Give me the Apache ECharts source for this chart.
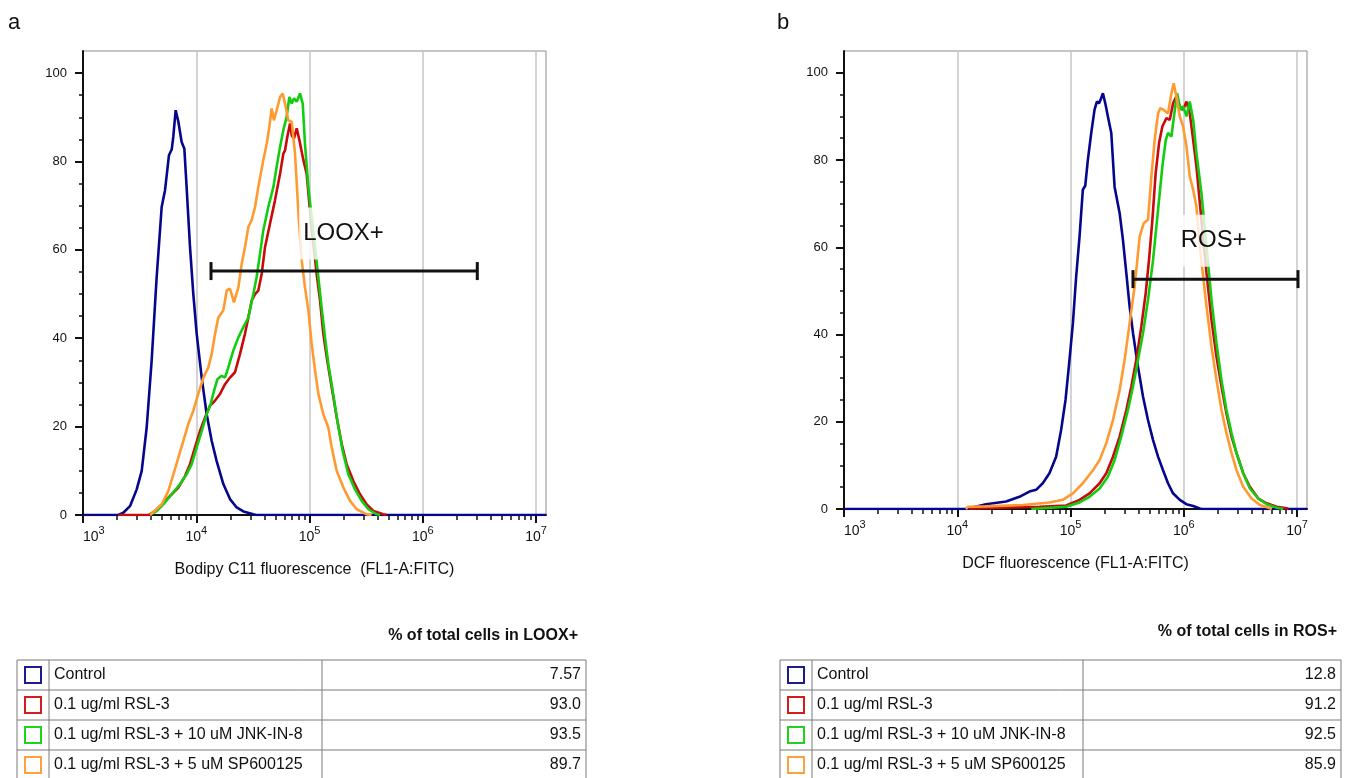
<!DOCTYPE html>
<html>
<head>
<meta charset="utf-8">
<script src="https://cdn.jsdelivr.net/npm/echarts@6/dist/echarts.min.js"></script>
<style>
html,body{margin:0;padding:0;background:#fff;}
#chart{width:1346px;height:778px;}
</style>
</head>
<body>
<div id="chart"></div>
<script>
// ---------- data (x = fluorescence intensity, y = % of max) ----------
const loxControl = [[1000,0],[2050,0],[2270,0.5],[2600,2],[2980,5.8],[3300,10],[3650,19.8],[4040,35],[4470,53.8],[4950,69.7],[5300,73.5],[5740,81.4],[6070,82.7],[6270,85.6],[6580,91.6],[6950,89],[7430,84.4],[7850,82.9],[8220,74.2],[8810,60.6],[9420,50],[10090,41],[11170,31.1],[12360,22.8],[13680,16.8],[15140,12.2],[17340,7],[19860,3.6],[22750,1.7],[26060,0.8],[31920,0.15],[34000,0],[12250000,0]];
const loxRsl = [[2050,0],[3780,0],[4330,0.9],[4960,2.4],[5860,4.3],[6950,6.2],[7960,8.8],[8810,11.5],[9750,15.3],[10790,19],[11940,22],[13210,24.7],[14660,25.9],[16220,27.4],[17950,29.6],[19860,31.1],[21980,32.3],[24320,36.4],[26920,41],[28840,44.7],[30830,48.5],[33040,50],[35320,50.8],[37840,54.6],[40460,60.6],[44770,65.9],[49550,71.2],[54950,77.2],[58750,81.8],[60810,82.5],[63680,85.6],[67300,88.6],[69660,85.9],[72950,85.2],[77090,87.5],[81280,84.9],[88310,80.3],[94410,77.2],[100900,68.9],[108100,61.4],[115600,54.6],[123900,48.5],[132400,41],[143500,34.9],[157000,28.9],[173800,22.1],[192300,16.1],[212800,11.5],[243800,7.7],[279300,4.7],[319900,2.4],[366400,0.9],[448700,0.15],[479700,0]];
const loxJnk = [[3910,0],[4470,0.9],[5120,2.4],[6070,4.7],[7190,7],[8220,9.2],[9120,11.5],[10090,15.3],[11170,19],[12360,22.8],[13400,25.1],[14350,28.1],[15350,30.7],[16750,31.5],[17950,31.1],[19190,33.4],[21230,37.2],[23550,40.2],[26060,42.5],[28840,44.7],[31920,50],[34120,53.8],[36560,59.1],[39080,64.4],[43250,69.7],[47970,74.2],[51290,78.8],[54950,83.3],[58750,87.1],[62810,90.1],[66370,94.6],[69660,93.1],[72950,94.3],[77090,93.5],[82410,95.4],[87100,93.1],[91200,84],[97720,74.2],[104500,67.4],[111900,60.6],[119700,53.8],[127900,47],[137100,40.2],[146600,34.2],[160300,28.1],[176200,21.3],[196300,14.5],[220300,9.2],[252300,5.8],[289100,3.2],[331100,1.3],[391700,0.15],[419800,0]];
const loxSp = [[3910,0],[4960,2.4],[5660,5.4],[6280,9.2],[6950,13],[7690,16.8],[8510,20.6],[9420,23.6],[10420,27.4],[11560,31.1],[12790,33.4],[13680,36.4],[14660,41],[15670,44.7],[17340,46.3],[18580,50.8],[19860,51.2],[21530,48.1],[23550,51.5],[25180,56.8],[26920,60.6],[28840,65.2],[30830,66.7],[33040,69.7],[35320,74.2],[39080,80.3],[41880,84],[44160,87.8],[46340,92],[48530,89.3],[51290,91.6],[54950,94.6],[57940,95.4],[60810,93.1],[65010,89.3],[69660,89],[74470,81.8],[79620,68.9],[85310,57.6],[91200,51.5],[97720,46.3],[104500,38.7],[111900,32.7],[119700,27.4],[132400,22.8],[146600,19.8],[157000,15.3],[173800,10],[199100,6.2],[228000,3.2],[261200,1.3],[319900,0.15],[354000,0]];

const rosControl = [[1000,0],[11900,0],[17950,1.1],[26980,1.7],[35400,2.8],[43350,4],[49660,4.4],[56890,5.9],[65160,8.2],[74640,12],[82600,18.1],[90360,25],[97950,34.2],[105000,42.6],[112200,53.3],[120200,62.5],[128500,73.2],[134900,74.1],[142200,80],[152400,86.2],[162900,91.5],[171000,93.4],[178200,93],[184100,93.8],[193200,95.3],[202800,93],[213800,90],[229100,86.2],[244900,73.9],[271600,67.8],[290400,61.7],[311200,54],[332700,46.4],[356500,40.3],[394500,32.6],[436500,25.8],[483100,20.4],[535800,15.8],[592900,12],[656100,8.9],[726100,5.9],[803500,3.6],[922600,2.1],[1054000,1.1],[1211000,0.7],[1384000,0.1],[1450000,0],[12250000,0]];
const rosRsl = [[12800,0],[13680,0.15],[53210,0.5],[91620,0.8],[120200,2.1],[147200,3.6],[180700,5.9],[207000,8.2],[237100,12],[271600,16.6],[311200,22.7],[344400,28.1],[381100,34.2],[421700,41.8],[461300,49.5],[493300,57.1],[528400,66.3],[564900,77],[605300,83.9],[647100,87.7],[703100,89.6],[751600,89.2],[805400,93],[861000,94.6],[922600,92.3],[986300,91.5],[1057000,93.4],[1130000,90.7],[1211000,84.6],[1294000,78.5],[1432000,66.3],[1589000,54],[1758000,43.3],[1945000,34.9],[2153000,28.1],[2382000,21.9],[2642000,16.6],[2924000,12.8],[3350000,8.2],[3837000,5.1],[4550000,2.4],[5395000,1.3],[6607000,0.5],[8091000,0.15],[8400000,0]];
const rosJnk = [[45000,0],[91620,0.5],[120200,1.5],[147200,2.8],[180700,4.7],[213800,7.4],[244900,11.2],[280500,16.6],[321400,22.7],[356500,28.1],[394500,34.2],[436500,40.3],[483100,47.9],[535800,57.1],[592900,68.6],[647100,78.5],[693400,84.6],[726100,86.2],[778000,85.4],[833700,91.5],[873000,95.3],[935400,91.5],[986300,92.3],[1057000,90],[1130000,93.4],[1211000,89.2],[1294000,81.6],[1432000,72.4],[1589000,60.2],[1758000,47.9],[1945000,38],[2153000,29.6],[2382000,22.7],[2642000,17.4],[2924000,12.8],[3350000,8.2],[3837000,4.7],[4550000,2.4],[5395000,1.1],[6607000,0.3],[7568000,0]];
const rosSp = [[11900,0],[12500,0.5],[17950,0.6],[37840,0.9],[65160,1.5],[85510,2.1],[105000,3.6],[128500,5.9],[157800,8.9],[180700,11.2],[207000,15.1],[237100,20.4],[271600,27.3],[300600,34.2],[332700,42.6],[368100,51],[408300,62.5],[442600,65.5],[483100,66.3],[517600,76.2],[553400,84.6],[592900,90.7],[620900,91.9],[665300,91.5],[726100,90.7],[778000,95.3],[814700,97.6],[861000,94.6],[922600,90],[986300,87.7],[1057000,83.1],[1130000,76.2],[1211000,73.2],[1294000,69.3],[1384000,60.2],[1483000,53.3],[1589000,46.4],[1758000,37.2],[1945000,29.6],[2153000,22.7],[2382000,17.4],[2642000,12.8],[2924000,8.9],[3350000,5.1],[3972000,2.4],[4710000,0.9],[5768000,0.15],[6000000,0]];

// gates: [from, to, level] and label anchor [x, y]
const looxGate = [13500, 3030000, 55.2];
const looxLabelAt = [199500, 63.7];
const rosGate = [356000, 10200000, 52.7];
const rosLabelAt = [1840000, 61.5];

// legend / table
const groupNames = ['Control', '0.1 ug/ml RSL-3', '0.1 ug/ml RSL-3 + 10 uM JNK-IN-8', '0.1 ug/ml RSL-3 + 5 uM SP600125'];
const looxPercent = [7.57, 93.0, 93.5, 89.7];
const rosPercent = [12.8, 91.2, 92.5, 85.9];

// axes
const xMin = 1000, xMax = 12250000;
const xMajorTicks = [1000, 10000, 100000, 1000000, 10000000];
const xMinorTicks = [2000,3000,4000,5000,6000,7000,8000,9000,20000,30000,40000,50000,60000,70000,80000,90000,200000,300000,400000,500000,600000,700000,800000,900000,2000000,3000000,4000000,5000000,6000000,7000000,8000000,9000000];
const yMajorTicks = [0, 20, 40, 60, 80, 100];
const yMinorTicks = [5,10,15,25,30,35,45,50,55,65,70,75,85,90,95];
const yMin = 0, yMax = 105;

// ---------- styles ----------
const FONT = 'Liberation Sans, Arial, Helvetica, sans-serif';
const seriesColors = ['#06068c', '#c80a0a', '#12cc12', '#ff9a30'];
const legendColors = ['#1c1c8e', '#d41c1c', '#22d022', '#ffa040'];

const chart = echarts.init(document.getElementById('chart'), null, {renderer: 'canvas'});

function majorX(gridIndex, name) {
  return {
    gridIndex, type: 'log', logBase: 10, min: xMin, max: xMax, position: 'bottom',
    name, nameLocation: 'middle', nameGap: 47,
    nameTextStyle: {fontSize: 16, color: '#111', fontFamily: FONT},
    axisLine: {show: true, onZero: false, lineStyle: {color: '#111', width: 2}},
    axisTick: {show: true, customValues: xMajorTicks, length: 8, lineStyle: {color: '#111', width: 2}},
    axisLabel: {
      show: true, customValues: xMajorTicks, margin: 15, alignMinLabel: 'left',
      formatter: v => '{b|10}{s|' + Math.round(Math.log10(v)) + '}',
      rich: {
        b: {fontSize: 14, lineHeight: 14, verticalAlign: 'bottom', color: '#111', fontFamily: FONT},
        s: {fontSize: 11, lineHeight: 11, padding: [0, 0, 13, 0], color: '#111', fontFamily: FONT}
      }
    },
    splitLine: {show: true, lineStyle: {color: '#c6c6c6', width: 1.5}},
    minorTick: {show: false}
  };
}
function minorX(gridIndex) {
  return {
    gridIndex, type: 'log', logBase: 10, min: xMin, max: xMax, position: 'bottom',
    axisLine: {show: false, onZero: false},
    axisTick: {show: true, customValues: xMinorTicks, length: 5, lineStyle: {color: '#111', width: 1.5}},
    axisLabel: {show: false}, splitLine: {show: false}
  };
}
function majorY(gridIndex) {
  return {
    gridIndex, type: 'value', min: yMin, max: yMax, position: 'left',
    axisLine: {show: true, onZero: false, lineStyle: {color: '#111', width: 2}},
    axisTick: {show: true, customValues: yMajorTicks, length: 8, lineStyle: {color: '#111', width: 2}},
    axisLabel: {show: true, customValues: yMajorTicks, margin: 16, fontSize: 13, color: '#111', fontFamily: FONT, padding: [7, 0, 0, 0]},
    splitLine: {show: false}
  };
}
function minorY(gridIndex) {
  return {
    gridIndex, type: 'value', min: yMin, max: yMax, position: 'left',
    axisLine: {show: false, onZero: false},
    axisTick: {show: true, customValues: yMinorTicks, length: 4, lineStyle: {color: '#111', width: 1.5}},
    axisLabel: {show: false}, splitLine: {show: false}
  };
}

function curve(data, colorIdx, xi, yi) {
  return {
    type: 'line', xAxisIndex: xi, yAxisIndex: yi, data, showSymbol: false, symbol: 'none',
    lineStyle: {color: seriesColors[colorIdx], width: 2.6}, itemStyle: {color: seriesColors[colorIdx]},
    z: 2 + colorIdx * 0.1, silent: true, animation: false
  };
}

function renderGate(params, api) {
  const a = api.coord([api.value(0), api.value(2)]);
  const b = api.coord([api.value(1), api.value(2)]);
  const st = {stroke: '#111', lineWidth: 3};
  return {type: 'group', children: [
    {type: 'line', shape: {x1: a[0], y1: a[1], x2: b[0], y2: b[1]}, style: st},
    {type: 'line', shape: {x1: a[0], y1: a[1] - 9, x2: a[0], y2: a[1] + 9}, style: st},
    {type: 'line', shape: {x1: b[0], y1: b[1] - 9, x2: b[0], y2: b[1] + 9}, style: st}
  ]};
}
function labelRenderer(text) {
  return function (params, api) {
    const c = api.coord([api.value(0), api.value(1)]);
    return {type: 'text', x: c[0], y: c[1], style: {
      text, fontSize: 24, fontFamily: FONT, fill: '#111', align: 'center', verticalAlign: 'middle',
      backgroundColor: 'rgba(255,255,255,0.8)', padding: [14, 4, 14, 4]
    }};
  };
}

// table builder (graphic elements)
function buildTable(colX, top, rowH, title, titleRight, titleY, values) {
  const els = [];
  const lineStyle = {stroke: '#7a7a7a', lineWidth: 1};
  const nRows = groupNames.length;
  els.push({type: 'text', x: titleRight, y: titleY, style: {text: title, fontSize: 16, fontWeight: 'bold', fontFamily: FONT, fill: '#111', align: 'right', verticalAlign: 'middle'}});
  for (let i = 0; i <= nRows; i++) {
    els.push({type: 'line', shape: {x1: colX[0], y1: top + i * rowH, x2: colX[3], y2: top + i * rowH}, style: lineStyle});
  }
  colX.forEach(x => els.push({type: 'line', shape: {x1: x, y1: top, x2: x, y2: top + nRows * rowH}, style: lineStyle}));
  groupNames.forEach((g, i) => {
    const cy = top + (i + 0.5) * rowH;
    const cx = (colX[0] + colX[1]) / 2;
    els.push({type: 'rect', shape: {x: cx - 8, y: cy - 8, width: 16, height: 16}, style: {fill: 'none', stroke: legendColors[i], lineWidth: 2}});
    els.push({type: 'text', x: colX[1] + 5, y: cy, style: {text: g, fontSize: 16, fontFamily: FONT, fill: '#111', align: 'left', verticalAlign: 'middle'}});
    els.push({type: 'text', x: colX[3] - 5, y: cy, style: {text: values[i].toPrecision(3), fontSize: 16, fontFamily: FONT, fill: '#111', align: 'right', verticalAlign: 'middle'}});
  });
  return els;
}

const graphics = [
  {type: 'text', x: 8, y: 12, style: {text: 'a', fontSize: 22, fontFamily: FONT, fill: '#111'}},
  {type: 'text', x: 777, y: 12, style: {text: 'b', fontSize: 22, fontFamily: FONT, fill: '#111'}}
].concat(
  buildTable([17, 49, 322, 586], 660, 30, '% of total cells in LOOX+', 578, 636, looxPercent),
  buildTable([780, 812, 1083, 1341], 660, 30, '% of total cells in ROS+', 1337, 632, rosPercent)
);

const option = {
  animation: false,
  backgroundColor: '#ffffff',
  textStyle: {fontFamily: FONT},
  grid: [
    {left: 83, top: 51, width: 463, height: 464, show: true, borderColor: '#8c8c8c', borderWidth: 1, backgroundColor: 'transparent', containLabel: false, outerBoundsMode: 'none'},
    {left: 844, top: 51, width: 463, height: 458, show: true, borderColor: '#8c8c8c', borderWidth: 1, backgroundColor: 'transparent', containLabel: false, outerBoundsMode: 'none'}
  ],
  xAxis: [
    majorX(0, 'Bodipy C11 fluorescence  (FL1-A:FITC)'), minorX(0),
    majorX(1, 'DCF fluorescence (FL1-A:FITC)'), minorX(1)
  ],
  yAxis: [majorY(0), minorY(0), majorY(1), minorY(1)],
  series: [
    curve(loxControl, 0, 0, 0), curve(loxJnk, 2, 0, 0), curve(loxRsl, 1, 0, 0), curve(loxSp, 3, 0, 0),
    curve(rosControl, 0, 2, 2), curve(rosJnk, 2, 2, 2), curve(rosRsl, 1, 2, 2), curve(rosSp, 3, 2, 2),
    {type: 'custom', xAxisIndex: 0, yAxisIndex: 0, data: [looxGate], encode: {x: [0, 1], y: 2}, renderItem: renderGate, z: 6, silent: true},
    {type: 'custom', xAxisIndex: 2, yAxisIndex: 2, data: [rosGate], encode: {x: [0, 1], y: 2}, renderItem: renderGate, z: 6, silent: true},
    {type: 'custom', xAxisIndex: 0, yAxisIndex: 0, data: [looxLabelAt], encode: {x: 0, y: 1}, renderItem: labelRenderer('LOOX+'), z: 7, silent: true},
    {type: 'custom', xAxisIndex: 2, yAxisIndex: 2, data: [rosLabelAt], encode: {x: 0, y: 1}, renderItem: labelRenderer('ROS+'), z: 7, silent: true}
  ],
  graphic: graphics
};
chart.setOption(option);
</script>
</body>
</html>
